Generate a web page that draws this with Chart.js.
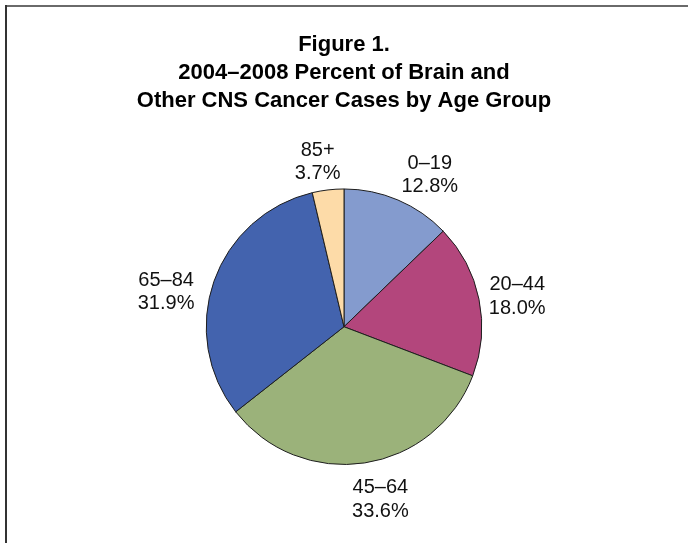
<!DOCTYPE html>
<html>
<head>
<meta charset="utf-8">
<script src="https://cdn.jsdelivr.net/npm/chart.js@4.4.1/dist/chart.umd.min.js"></script>
<style>
  html, body { margin: 0; padding: 0; background: #ffffff; }
  #wrap { width: 688px; height: 543px; position: relative; }
</style>
</head>
<body>
<div id="wrap"><canvas id="c" width="688" height="543"></canvas></div>
<script>
// ---- data ----
const titleLines = ["Figure 1.", "2004\u20132008 Percent of Brain and", "Other CNS Cancer Cases by Age Group"];
const ageGroups = ["0\u201319", "20\u201344", "45\u201364", "65\u201384", "85+"];
const percentCases = [12.8, 18.0, 33.6, 31.9, 3.7];

// ---- styles ----
const sliceColors = ["#849BCE", "#B3467C", "#9BB27A", "#4363AE", "#FDDBA8"];
// small pixel nudges applied to each outside label (label placement as in the source)
const labelOffsets = [[17, 10], [1, 5], [10, -1], [-12, 23], [-6, 10]];

const frame = {
  id: 'frame',
  beforeDraw(chart) {
    const ctx = chart.ctx;
    ctx.save();
    ctx.fillStyle = '#ffffff';
    ctx.fillRect(0, 0, chart.width, chart.height);
    ctx.fillStyle = '#6a6a6a';
    ctx.fillRect(5, 5, chart.width - 5, 2);
    ctx.fillStyle = '#333333';
    ctx.fillRect(5, 5, 2, chart.height - 5);
    ctx.restore();
  }
};

const outsideLabels = {
  id: 'outsideLabels',
  afterDatasetsDraw(chart) {
    const ctx = chart.ctx;
    const meta = chart.getDatasetMeta(0);
    ctx.save();
    ctx.font = '20px "Liberation Sans", Arial, sans-serif';
    ctx.fillStyle = '#111111';
    ctx.textAlign = 'center';
    ctx.textBaseline = 'middle';
    meta.data.forEach((arc, i) => {
      const p = arc.getProps(['x', 'y', 'startAngle', 'endAngle', 'outerRadius'], true);
      const mid = (p.startAngle + p.endAngle) / 2;
      const d = p.outerRadius + 38;
      const cx = p.x + Math.cos(mid) * d + labelOffsets[i][0];
      const cy = p.y + Math.sin(mid) * d + labelOffsets[i][1];
      const lh = 23.5;
      ctx.fillText(ageGroups[i], cx, cy - lh / 2);
      ctx.fillText(percentCases[i].toFixed(1) + '%', cx, cy + lh / 2);
    });
    ctx.restore();
  }
};

new Chart(document.getElementById('c'), {
  type: 'pie',
  data: {
    labels: ageGroups,
    datasets: [{
      data: percentCases,
      backgroundColor: sliceColors,
      borderColor: '#1e1e1e',
      borderWidth: 1
    }]
  },
  options: {
    responsive: false,
    animation: false,
    layout: { padding: { top: 0, bottom: 78, left: 0, right: 0 } },
    plugins: {
      legend: { display: false },
      tooltip: { enabled: false },
      title: {
        display: true,
        text: titleLines,
        color: '#000000',
        font: { family: '"Liberation Sans", Arial, sans-serif', size: 22, weight: 'bold', lineHeight: 1.28 },
        padding: { top: 31, bottom: 73 }
      }
    }
  },
  plugins: [frame, outsideLabels]
});
</script>
</body>
</html>
